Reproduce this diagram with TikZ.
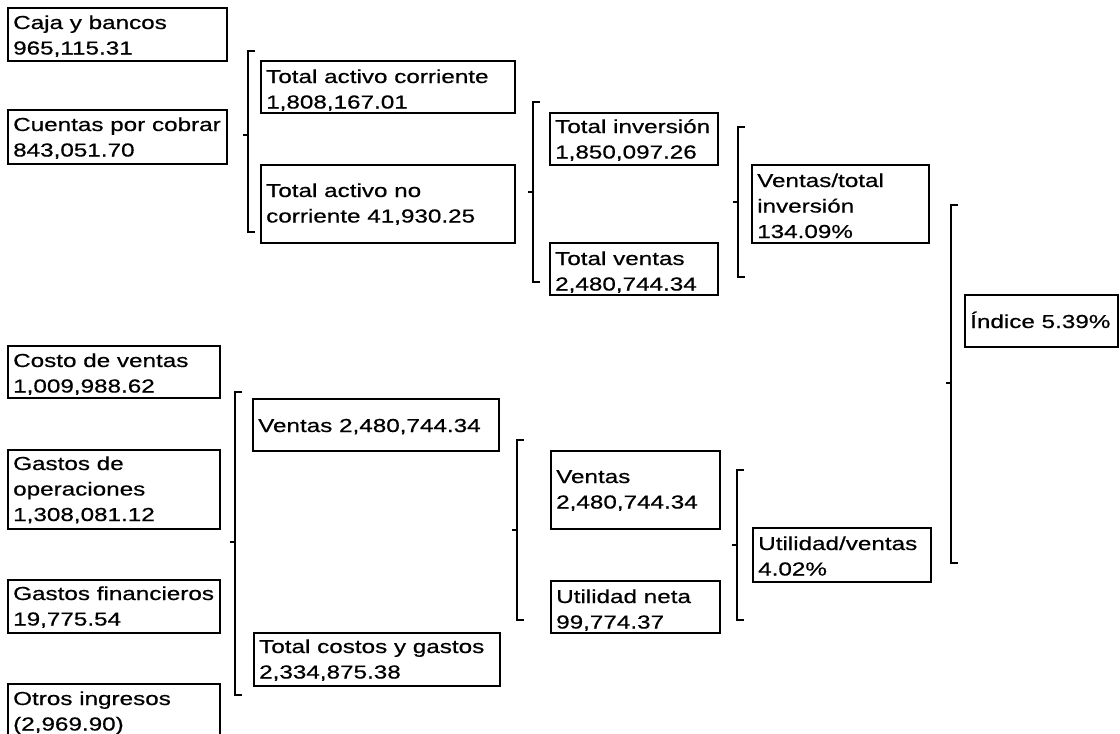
\documentclass[tikz,border=0pt]{standalone}
\usepackage{fontspec}
\newfontfamily\dfont{Liberation Sans}[FakeStretch=1.29,FakeBold=0.6]
\tikzset{
  boxst/.style={draw=black, line width=1.8pt, inner sep=0pt, outer sep=0pt},
  txtst/.style={inner sep=0pt, anchor=base west, font=\dfont\fontsize{18.8}{25.5}\selectfont},
  brkst/.style={draw=black, line width=1.8pt}
}
\newcommand{\dbox}[7]{%
  \node[boxst, minimum width=#4pt, minimum height=#5pt, anchor=north west] (#1) at (#2pt,-#3pt) {};
  \node[txtst] (#1-t) at ([xshift=5pt,yshift=-#6pt]#1.north west) {\parbox[t]{10cm}{#7}};
}
\newcommand{\brkt}[5]{%
  \coordinate (#1-t) at (#2pt,-#3pt);
  \coordinate (#1-b) at (#2pt,-#4pt);
  \coordinate (#1-m) at (#2pt,-#5pt);
  \draw[brkst] ([xshift=7pt]#1-t) -- (#1-t) -- (#1-b) -- ([xshift=7pt]#1-b);
  \draw[brkst] (#1-m) -- ([xshift=-5pt]#1-m);
}
\begin{document}
\begin{tikzpicture}
\useasboundingbox (0,0) rectangle (1120pt,-734pt);
\fill[white] (0,0) rectangle (1120pt,-734pt);
% top half
\dbox{caja}{8}{8}{219}{53}{21}{Caja y bancos\\965,115.31}
\dbox{cxc}{8}{110}{219}{54}{21}{Cuentas por cobrar\\843,051.70}
\dbox{tac}{261}{61}{254}{52}{22}{Total activo corriente\\1,808,167.01}
\dbox{tanc}{261}{165}{254}{78}{32}{Total activo no\\corriente 41,930.25}
\dbox{tinv}{550}{113}{168}{52}{20}{Total inversión\\1,850,097.26}
\dbox{tven}{550}{243}{168}{52}{22}{Total ventas\\2,480,744.34}
\dbox{vti}{752}{165}{177}{78}{22}{Ventas/total\\inversión\\134.09\%}
\dbox{indice}{965}{295}{153}{52}{33}{Índice 5.39\%}
% bottom half
\dbox{cdv}{8}{346}{212}{52}{21}{Costo de ventas\\1,009,988.62}
\dbox{gop}{8}{450}{212}{79}{20}{Gastos de\\operaciones\\1,308,081.12}
\dbox{gfin}{8}{580}{212}{53}{20}{Gastos financieros\\19,775.54}
\dbox{otros}{8}{684}{212}{70}{21}{Otros ingresos\\(2,969.90)}
\dbox{vtas1}{253}{399}{246}{52}{33}{Ventas 2,480,744.34}
\dbox{tcg}{254}{633}{246}{53}{20}{Total costos y gastos\\2,334,875.38}
\dbox{vtas2}{551}{451}{169}{78}{32}{Ventas\\2,480,744.34}
\dbox{uneta}{551}{581}{169}{52}{22}{Utilidad neta\\99,774.37}
\dbox{ut}{753}{528}{178}{54}{22}{Utilidad/ventas\\4.02\%}
% brackets
\brkt{b1}{248}{51}{232}{135}
\brkt{b2}{533}{102}{282}{192}
\brkt{b3}{738}{127}{277}{202}
\brkt{b4}{951}{205}{563}{383}
\brkt{b5}{235}{392}{695}{542}
\brkt{b6}{517}{440}{620}{530}
\brkt{b7}{737}{470}{620}{545}
\end{tikzpicture}
\end{document}
